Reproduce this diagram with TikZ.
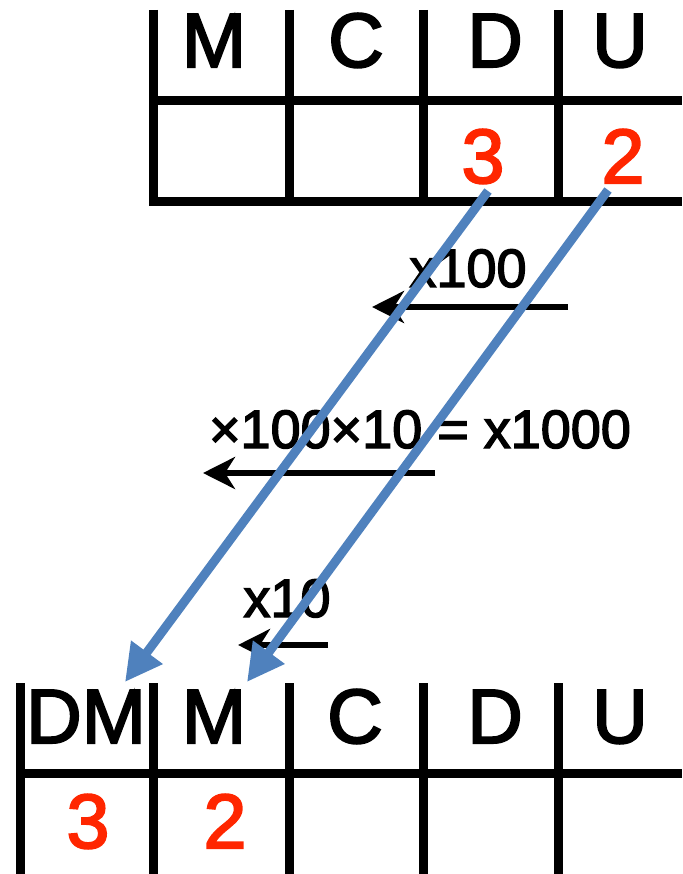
\documentclass[tikz,border=0pt]{standalone}
\usepackage{fontspec}
\setmainfont{Liberation Sans}[FakeBold=2.6]
\usetikzlibrary{arrows.meta}
\definecolor{digitred}{RGB}{255,38,0}
\definecolor{moveblue}{RGB}{79,129,189}
\begin{document}
\begin{tikzpicture}[x=1pt,y=-1pt,
  gridline/.style={line width=9pt, black},
  head/.style={font=\fontsize{77}{80}\selectfont, inner sep=0pt, anchor=base},
  digit/.style={head, text=digitred},
  factor/.style={font=\fontsize{54}{58}\selectfont, inner sep=0pt, anchor=base},
  shiftarrow/.style={line width=6.5pt, -{Stealth[length=32pt,width=32pt,inset=10pt]}},
  movearrow/.style={line width=9pt, moveblue, -{Triangle[length=37pt,width=37pt]}}]

\useasboundingbox (0,0) rectangle (682,874);

% ---- upper place-value table: M C D U ----
\foreach \x in {153,289,423,558} \draw[gridline] (\x,10) -- (\x,206);
\draw[gridline] (149,101) -- (682,101);
\draw[gridline] (149,202) -- (682,202);

\node[head] (tM) at (214,67) {M};
\node[head] (tC) at (356,67) {C};
\node[head] (tD) at (495,67) {D};
\node[head] (tU) at (620,67) {U};
\node[digit] (tThree) at (483,183) {3};
\node[digit] (tTwo)   at (623,183) {2};

% ---- lower place-value table: DM M C D U ----
\foreach \x in {20,153,289,423,558} \draw[gridline] (\x,683) -- (\x,874);
\draw[gridline] (16,773) -- (682,773);

\node[head] (bDM) at (86,743)  {DM};
\node[head] (bM)  at (214,743) {M};
\node[head] (bC)  at (355,743) {C};
\node[head] (bD)  at (495,743) {D};
\node[head] (bU)  at (620,743) {U};
\node[digit] (bThree) at (88,848)  {3};
\node[digit] (bTwo)   at (225,848) {2};

% ---- shift factors with leftward arrows ----
\node[factor] (fHundred)  at (468,287) {x100};
\node[factor] (fThousand) at (420,448) {×100×10 = x1000};
\node[factor] (fTen)      at (287,617) {x10};

\coordinate (sHa) at (568,307); \coordinate (sHb) at (372,307);
\coordinate (sTa) at (435,473); \coordinate (sTb) at (203,473);
\coordinate (sEa) at (328,645); \coordinate (sEb) at (238,645);
\draw[shiftarrow] (sHa) -- (sHb);
\draw[shiftarrow] (sTa) -- (sTb);
\draw[shiftarrow] (sEa) -- (sEb);

% ---- digits moving three places to the left ----
\coordinate (mThreeA) at (488,191); \coordinate (mThreeB) at (125,682);
\coordinate (mTwoA)   at (608,190); \coordinate (mTwoB)   at (247,682);
\draw[movearrow] (mThreeA) -- (mThreeB);
\draw[movearrow] (mTwoA) -- (mTwoB);
\end{tikzpicture}
\end{document}
